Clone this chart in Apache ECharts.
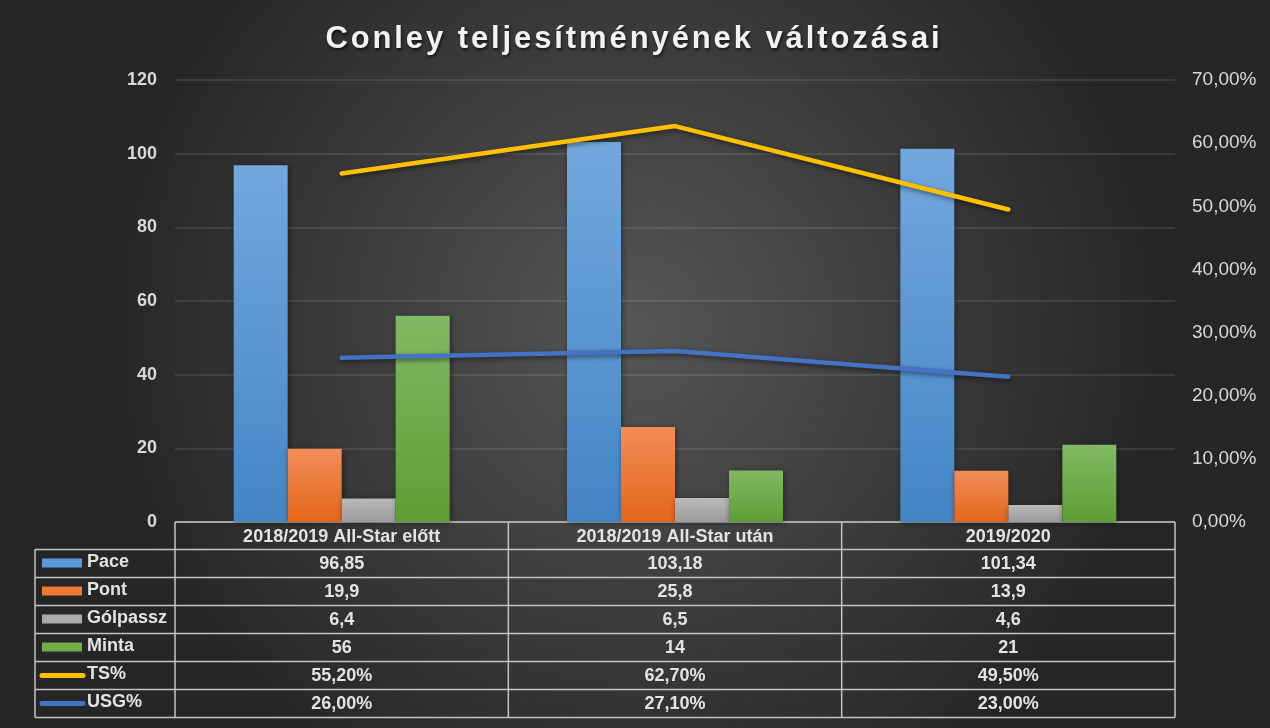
<!DOCTYPE html>
<html>
<head>
<meta charset="utf-8">
<script src="https://cdn.jsdelivr.net/npm/echarts@6/dist/echarts.min.js"></script>
<style>
html,body{margin:0;padding:0;background:#262626;}
#wrap{position:relative;width:1270px;height:728px;}
#chart{position:absolute;left:0;top:0;width:1270px;height:728px;}
#title{position:absolute;left:0;width:1268px;top:22px;text-align:center;font:bold 31px 'Liberation Sans',Arial,sans-serif;line-height:1;letter-spacing:2.9px;color:#f2f2f2;text-shadow:1px 2px 3px rgba(0,0,0,0.65);pointer-events:none;}
</style>
</head>
<body>
<div id="wrap">
<div id="chart"></div>
<div id="title">Conley teljesítményének változásai</div>
</div>
<script>
// ---- data ----
const categories = ['2018/2019 All-Star előtt', '2018/2019 All-Star után', '2019/2020'];
const seriesNames = ['Pace', 'Pont', 'Gólpassz', 'Minta', 'TS%', 'USG%'];
const pace = [96.85, 103.18, 101.34];
const pont = [19.9, 25.8, 13.9];
const golpassz = [6.4, 6.5, 4.6];
const minta = [56, 14, 21];
const tsPct = [0.552, 0.627, 0.495];
const usgPct = [0.26, 0.271, 0.23];
const leftAxisMax = 120, leftAxisStep = 20;
const rightAxisMax = 0.7, rightAxisStep = 0.1;

// ---- styling / layout ----
const W = 1270, H = 728;
const gridL = 175, gridR = 1175, gridT = 80, gridB = 522;
const fontFam = "'Liberation Sans', Arial, sans-serif";
const textCol = '#e3e3e3';
function vgrad(top, bottom) {
  return new echarts.graphic.LinearGradient(0, 0, 0, 1, [{offset: 0, color: top}, {offset: 1, color: bottom}]);
}
const barColors = [
  vgrad('#72a8de', '#4485c6'),
  vgrad('#f28d58', '#e4661a'),
  vgrad('#bababa', '#9b9b9b'),
  vgrad('#81b964', '#5d9e33')
];
const swatchColors = ['#5a9ad9', '#ee7a35', '#ababab', '#6fae48', '#ffc000', '#4472c4'];
const lineColors = ['#ffc000', '#4472c4'];

const fmtNum = v => String(v).replace('.', ',');
const fmtPct = v => (v * 100).toFixed(2).replace('.', ',') + '%';

const tableRows = [
  {name: seriesNames[0], values: pace, fmt: fmtNum, kind: 'bar'},
  {name: seriesNames[1], values: pont, fmt: fmtNum, kind: 'bar'},
  {name: seriesNames[2], values: golpassz, fmt: fmtNum, kind: 'bar'},
  {name: seriesNames[3], values: minta, fmt: fmtNum, kind: 'bar'},
  {name: seriesNames[4], values: tsPct, fmt: fmtPct, kind: 'line'},
  {name: seriesNames[5], values: usgPct, fmt: fmtPct, kind: 'line'}
];

// ---- table graphic ----
const tblTop = 522, hdrBottom = 549.5, rowH = 28, tblLeft = 35;
const tblBottom = hdrBottom + rowH * tableRows.length;
const colW = (gridR - gridL) / categories.length;
const lineStyle = {stroke: '#c4c4c4', lineWidth: 1.5};
const g = [];
g.push({type: 'line', shape: {x1: gridL, y1: tblTop, x2: gridR, y2: tblTop}, style: lineStyle, silent: true});
for (let i = 0; i <= tableRows.length; i++) {
  const y = hdrBottom + rowH * i;
  g.push({type: 'line', shape: {x1: tblLeft, y1: y, x2: gridR, y2: y}, style: lineStyle, silent: true});
}
g.push({type: 'line', shape: {x1: tblLeft, y1: hdrBottom, x2: tblLeft, y2: tblBottom}, style: lineStyle, silent: true});
for (let c = 0; c <= categories.length; c++) {
  const x = gridL + colW * c;
  g.push({type: 'line', shape: {x1: x, y1: tblTop, x2: x, y2: tblBottom}, style: lineStyle, silent: true});
}
categories.forEach((cat, c) => {
  g.push({type: 'text', x: gridL + colW * (c + 0.5), y: (tblTop + hdrBottom) / 2 + 1, silent: true,
    style: {text: cat, fill: textCol, font: 'bold 18px ' + fontFam, align: 'center', verticalAlign: 'middle',
      textAlign: 'center', textVerticalAlign: 'middle'}});
});
tableRows.forEach((row, r) => {
  const cy = hdrBottom + rowH * r + rowH / 2;
  if (row.kind === 'bar') {
    g.push({type: 'rect', shape: {x: 42, y: cy - 5, width: 40, height: 9}, style: {fill: swatchColors[r]}, silent: true});
  } else {
    g.push({type: 'line', shape: {x1: 42, y1: cy, x2: 83, y2: cy}, style: {stroke: swatchColors[r], lineWidth: 5, lineCap: 'round'}, silent: true});
  }
  g.push({type: 'text', x: 87, y: cy - 1, silent: true,
    style: {text: row.name, fill: textCol, font: 'bold 18px ' + fontFam, align: 'left', verticalAlign: 'middle',
      textAlign: 'left', textVerticalAlign: 'middle'}});
  row.values.forEach((v, c) => {
    g.push({type: 'text', x: gridL + colW * (c + 0.5), y: cy + 1, silent: true,
      style: {text: row.fmt(v), fill: textCol, font: 'bold 18px ' + fontFam, align: 'center', verticalAlign: 'middle',
        textAlign: 'center', textVerticalAlign: 'middle'}});
  });
});

const barData = [pace, pont, golpassz, minta];
const series = [];
barData.forEach((d, i) => {
  series.push({
    name: seriesNames[i], type: 'bar', data: d, yAxisIndex: 0,
    barWidth: 54, barGap: '0%',
    itemStyle: {color: barColors[i], shadowBlur: 6, shadowColor: 'rgba(0,0,0,0.45)', shadowOffsetX: 1, shadowOffsetY: 1},
    z: 2
  });
});
[tsPct, usgPct].forEach((d, i) => {
  series.push({
    name: seriesNames[4 + i], type: 'line', data: d, yAxisIndex: 1,
    symbol: 'none', smooth: false,
    lineStyle: {color: lineColors[i], width: 4.5, cap: 'round', join: 'round',
      shadowBlur: 5, shadowColor: 'rgba(0,0,0,0.5)', shadowOffsetX: 1, shadowOffsetY: 2},
    itemStyle: {color: lineColors[i]},
    z: 5
  });
});

const chart = echarts.init(document.getElementById('chart'), null, {renderer: 'canvas', width: W, height: H});
chart.setOption({
  animation: false,
  backgroundColor: new echarts.graphic.RadialGradient(0.5, 0.45, 0.72, [
    {offset: 0, color: '#565656'},
    {offset: 1, color: '#262626'}
  ]),
  grid: {left: gridL, right: W - gridR, top: gridT, bottom: H - gridB, containLabel: false},
  xAxis: {
    type: 'category', data: categories,
    axisLine: {show: false}, axisTick: {show: false}, axisLabel: {show: false}, splitLine: {show: false}
  },
  yAxis: [
    {
      type: 'value', min: 0, max: leftAxisMax, interval: leftAxisStep,
      axisLine: {show: false}, axisTick: {show: false},
      axisLabel: {color: '#d9d9d9', fontSize: 18, fontWeight: 'bold', fontFamily: fontFam, margin: 18},
      splitLine: {lineStyle: {color: 'rgba(255,255,255,0.13)', width: 1.5}}
    },
    {
      type: 'value', min: 0, max: rightAxisMax, interval: rightAxisStep, position: 'right',
      axisLine: {show: false}, axisTick: {show: false},
      axisLabel: {color: '#d9d9d9', fontSize: 19, fontFamily: fontFam, margin: 17, formatter: v => fmtPct(v)},
      splitLine: {show: false}
    }
  ],
  series: series,
  graphic: g
});
</script>
</body>
</html>
